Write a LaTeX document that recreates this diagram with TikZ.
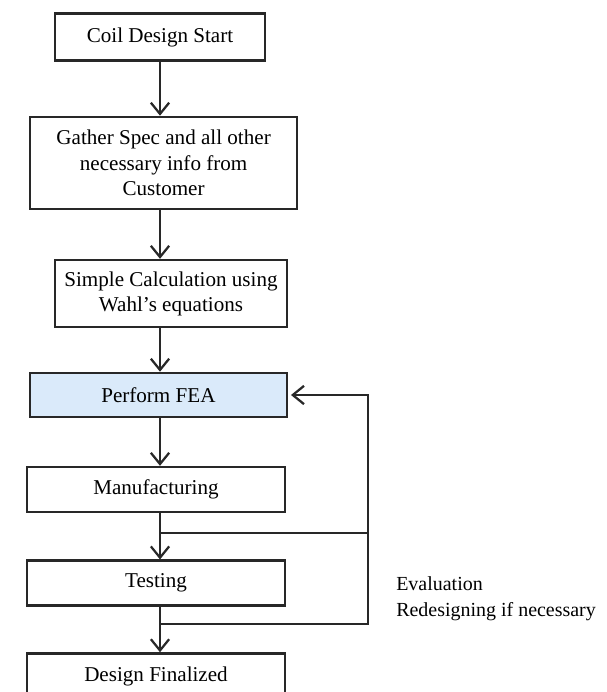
\documentclass[tikz,border=0pt]{standalone}
\usepackage{fontspec}
\setmainfont{Liberation Serif}
\usepackage{tikz}
\usetikzlibrary{arrows.meta,positioning}
\usepackage{xcolor}
\definecolor{fealightblue}{RGB}{218,234,250}
\definecolor{boxgray}{RGB}{40,40,40}
\tikzstyle{process} = [rectangle, minimum width=6.45cm, minimum height=1.125cm, text centered, align=center, draw=boxgray, fill=white, line width=1.8pt, font=\fontsize{15}{18}\selectfont, inner sep=2pt]
\tikzstyle{arrow} = [line width=1.6pt, ->, >={Straight Barb[length=8pt,width=13pt,line width=1.6pt]}, color=boxgray]
\tikzstyle{line} = [line width=1.6pt, color=boxgray]

\begin{document}
\begin{tikzpicture}
\useasboundingbox (0,0) rectangle (15.15,-17.3);
% Main chain
\node[process, minimum width=5.25cm, minimum height=1.175cm] (start) at (4.0,-0.925) {Coil Design Start};
\node[process, minimum width=6.675cm, minimum height=2.3cm] (gather) at (4.09,-4.075) {Gather Spec and all other\\necessary info from\\Customer};
\node[process, minimum width=5.8cm, minimum height=1.675cm] (calc) at (4.275,-7.34) {Simple Calculation using\\Wahl's equations};
\node[process, fill=fealightblue, minimum width=6.425cm, minimum height=1.1cm] (fea) at (3.96,-9.875) {Perform FEA};
\node[process] (manu) at (3.9,-12.24) {Manufacturing};
\node[process] (test) at (3.9,-14.58) {Testing};
\node[process] (final) at (3.9,-16.9) {Design Finalized};

% Arrow axis and feedback column
\coordinate (axis) at (4.0,0);
\coordinate (back) at (9.2,0);
\coordinate (j1) at (4.0,-13.32);
\coordinate (j2) at (4.0,-15.6);

\draw[arrow] (axis |- start.south) -- (axis |- gather.north);
\draw[arrow] (axis |- gather.south) -- (axis |- calc.north);
\draw[arrow] (axis |- calc.south) -- (axis |- fea.north);
\draw[arrow] (axis |- fea.south) -- (axis |- manu.north);
\draw[arrow] (axis |- manu.south) -- (axis |- test.north);
\draw[arrow] (axis |- test.south) -- (axis |- final.north);

% Feedback
\draw[line] (j1) -- (j1 -| back);
\draw[arrow] (j2) -- (j2 -| back) -- (back |- fea.east) -- ([xshift=2pt]fea.east);

\node[anchor=north west, align=left, font=\fontsize{14.2}{18}\selectfont, inner sep=0pt] (note) at (9.9,-14.42) {Evaluation\\Redesigning if necessary};
\end{tikzpicture}
\end{document}
